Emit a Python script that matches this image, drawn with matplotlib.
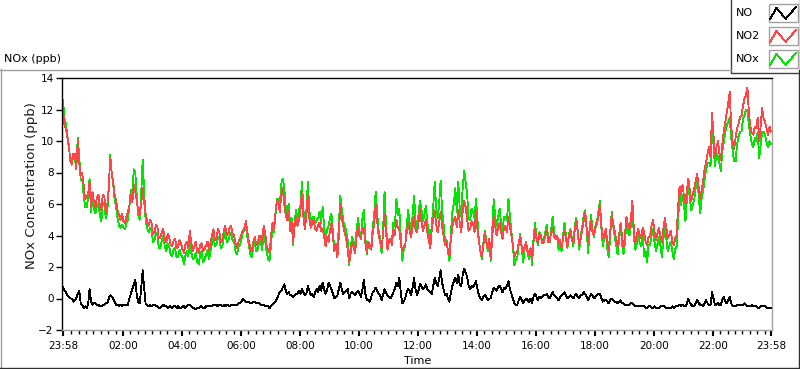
import numpy as np
import matplotlib
matplotlib.use("Agg")
import matplotlib.pyplot as plt
from matplotlib.lines import Line2D
from matplotlib.patches import Rectangle

# sample times in minutes after 23:58 (one reading every 3 min)
minutes = np.arange(0, 1441, 3)

no2 = [
    12.0, 11.0, 10.8, 10.2, 9.6, 8.8, 8.5, 9.2, 9.2, 8.3, 10.0, 8.6, 7.8, 8.0, 7.2, 6.3, 6.4, 6.6, 7.4, 5.8,
    6.8, 6.1, 5.8, 6.4, 6.6, 5.9, 5.6, 6.6, 6.5, 5.5, 5.9, 7.0, 8.9, 8.0, 7.4, 6.6, 6.2, 5.6, 5.3, 5.0,
    5.4, 4.9, 4.8, 5.2, 5.5, 5.9, 6.6, 6.1, 7.2, 6.8, 6.2, 5.6, 5.3, 6.0, 7.0, 6.1, 5.4, 4.9, 4.6, 5.0,
    4.8, 4.1, 4.2, 4.7, 4.5, 3.8, 3.9, 4.2, 4.4, 3.8, 3.6, 4.1, 3.9, 3.4, 3.3, 3.7, 3.8, 3.2, 3.3, 3.7,
    3.5, 3.1, 2.9, 3.4, 3.6, 3.2, 4.3, 3.5, 3.0, 3.3, 3.6, 3.0, 2.9, 3.4, 3.5, 3.0, 3.1, 3.4, 3.6, 3.1,
    3.5, 4.0, 4.4, 3.7, 3.8, 4.4, 4.2, 3.6, 3.7, 4.3, 4.6, 4.0, 4.1, 4.5, 4.6, 4.1, 4.0, 3.5, 3.2, 3.6,
    3.8, 4.1, 4.3, 4.5, 4.9, 4.2, 3.6, 3.2, 3.0, 3.6, 3.9, 3.4, 3.5, 4.0, 4.0, 3.5, 4.6, 4.2, 3.4, 3.1,
    2.9, 3.9, 4.8, 4.5, 5.4, 6.2, 6.0, 5.5, 6.6, 7.0, 6.0, 5.3, 5.0, 5.6, 4.3, 4.8, 3.6, 4.6, 5.2, 4.6,
    5.0, 5.6, 6.8, 5.2, 4.4, 5.3, 6.6, 5.1, 4.5, 4.8, 5.0, 4.4, 4.3, 4.7, 4.8, 4.3, 4.4, 4.0, 3.3, 3.9,
    3.6, 4.3, 4.8, 3.9, 3.0, 3.4, 2.6, 4.0, 6.0, 5.1, 4.6, 4.2, 3.8, 3.1, 2.3, 2.9, 3.6, 3.3, 2.9, 3.9,
    4.6, 4.0, 3.8, 4.5, 4.4, 3.5, 2.9, 3.6, 3.4, 3.1, 4.2, 4.8, 6.0, 4.9, 4.0, 3.6, 3.2, 4.1, 5.4, 4.2,
    3.1, 3.6, 3.8, 3.4, 4.4, 4.0, 5.0, 4.5, 4.4, 3.5, 3.0, 3.3, 3.4, 4.2, 4.8, 4.3, 3.9, 4.6, 5.2, 4.4,
    4.2, 4.8, 5.7, 4.9, 4.3, 4.6, 5.0, 4.2, 3.7, 3.2, 4.4, 5.0, 5.6, 4.7, 4.2, 4.8, 5.5, 4.6, 4.0, 3.4,
    3.6, 3.0, 2.7, 3.8, 4.6, 5.0, 5.2, 4.5, 5.6, 4.8, 4.2, 5.6, 6.2, 5.8, 5.0, 4.3, 4.4, 4.9, 4.8, 4.2,
    5.6, 4.4, 3.6, 3.0, 2.6, 3.4, 4.2, 3.6, 3.2, 3.8, 2.5, 3.9, 5.2, 4.6, 4.0, 4.5, 4.8, 4.2, 3.8, 4.5,
    4.6, 4.2, 5.2, 4.6, 4.0, 3.4, 2.6, 2.9, 3.0, 3.6, 3.9, 3.3, 2.9, 3.3, 3.5, 3.0, 2.8, 3.2, 2.5, 3.6,
    4.4, 3.8, 3.5, 4.1, 4.0, 3.5, 3.6, 4.0, 4.3, 3.6, 3.7, 4.2, 4.5, 3.9, 3.8, 4.0, 3.5, 3.7, 3.2, 3.8,
    4.3, 3.8, 3.3, 4.0, 4.3, 3.7, 3.5, 4.4, 5.0, 4.2, 3.4, 3.8, 4.4, 4.9, 5.5, 4.4, 3.6, 4.3, 5.0, 4.2,
    4.0, 4.5, 4.8, 5.2, 6.0, 4.6, 3.8, 4.1, 4.4, 3.6, 3.1, 4.2, 5.4, 4.8, 4.3, 3.7, 3.3, 4.0, 4.8, 3.9,
    3.2, 4.0, 5.2, 4.6, 4.4, 5.0, 6.2, 4.4, 3.5, 4.0, 4.4, 4.0, 3.8, 4.5, 4.2, 3.6, 3.4, 3.9, 4.0, 4.6,
    5.0, 4.2, 3.7, 4.1, 4.5, 4.0, 3.6, 4.4, 5.1, 4.5, 3.8, 4.0, 4.3, 3.7, 3.4, 3.8, 4.0, 5.8, 7.1, 6.6,
    7.2, 6.5, 6.0, 6.9, 7.6, 6.8, 6.2, 6.6, 7.0, 7.5, 7.9, 7.0, 6.3, 6.9, 7.5, 8.2, 8.6, 9.2, 9.6, 9.0,
    11.8, 10.4, 9.0, 9.6, 10.0, 9.2, 8.8, 9.8, 10.6, 11.2, 11.8, 12.4, 13.1, 11.0, 9.9, 9.5, 10.2, 10.8, 11.1, 11.5,
    11.6, 12.2, 12.7, 12.9, 13.4, 11.8, 10.9, 10.5, 10.4, 10.9, 10.8, 11.5, 10.0, 11.0, 12.1, 11.4, 11.2, 10.8, 10.4, 10.9,
    10.6,
]

no = [
    0.7, 0.5, 0.4, 0.2, 0.1, 0.0, 0.0, -0.2, -0.1, 0.0, 0.3, 0.5, -0.3, -0.4, -0.6, -0.5, -0.6, -0.4, 0.6, -0.2,
    -0.4, -0.3, -0.3, -0.4, -0.4, -0.5, -0.5, -0.4, -0.4, -0.3, -0.3, 0.0, 0.2, 0.1, 0.0, -0.2, -0.4, -0.4, -0.5, -0.4,
    -0.5, -0.4, -0.4, -0.4, -0.4, 0.0, 0.3, 0.6, 0.9, 1.2, 0.2, -0.2, -0.3, 0.6, 1.8, 0.7, -0.3, -0.4, -0.5, -0.4,
    -0.5, -0.4, -0.4, -0.5, -0.5, -0.6, -0.6, -0.5, -0.4, -0.5, -0.5, -0.6, -0.5, -0.5, -0.6, -0.5, -0.5, -0.6, -0.5, -0.6,
    -0.6, -0.5, -0.5, -0.6, -0.5, -0.4, -0.4, -0.5, -0.6, -0.6, -0.7, -0.6, -0.6, -0.5, -0.5, -0.6, -0.6, -0.5, -0.5, -0.5,
    -0.5, -0.5, -0.4, -0.4, -0.4, -0.5, -0.4, -0.4, -0.5, -0.4, -0.5, -0.4, -0.4, -0.5, -0.4, -0.4, -0.4, -0.4, -0.4, -0.3,
    -0.3, -0.2, 0.0, -0.1, -0.2, -0.2, -0.2, -0.3, -0.3, -0.2, -0.2, -0.3, -0.3, -0.3, -0.4, -0.4, -0.4, -0.5, -0.5, -0.5,
    -0.6, -0.5, -0.4, -0.3, -0.2, 0.0, 0.2, 0.4, 0.5, 0.7, 0.9, 0.5, 0.3, 0.4, 0.2, 0.2, 0.1, 0.2, 0.3, 0.3,
    0.5, 0.3, 0.6, 0.4, 0.2, 0.3, 0.8, 0.5, 0.2, 0.3, 0.1, 0.4, 0.6, 0.4, 0.8, 0.5, 1.0, 0.6, 0.3, 0.5,
    1.0, 0.8, 0.6, 0.3, 0.0, 0.1, 0.2, 0.6, 1.0, 0.6, 0.3, 0.4, 0.5, 0.6, 0.0, 0.3, 0.4, 0.3, 0.2, 0.4,
    0.5, 0.3, 0.1, 0.6, 1.2, 0.3, -0.1, -0.1, -0.2, 0.1, 0.4, 0.5, 0.7, 0.5, 0.3, 0.2, -0.1, 0.2, 0.6, 0.4,
    0.2, 0.1, 0.0, 0.2, 0.4, 0.6, 1.0, 0.8, 1.3, 0.4, -0.3, -0.2, 0.0, 0.4, 0.6, 0.5, 0.2, 0.7, 1.3, 0.6,
    0.2, 0.5, 0.9, 0.8, 0.6, 0.7, 0.9, 0.6, 0.5, 0.4, 0.3, 0.8, 1.3, 1.0, 0.8, 1.2, 1.8, 1.0, 0.6, 0.2,
    0.3, 0.0, -0.2, 0.4, 0.8, 1.1, 1.3, 1.0, 1.5, 0.9, 0.8, 1.5, 1.9, 1.6, 1.4, 0.8, 0.6, 0.8, 0.7, 0.9,
    1.1, 0.6, 0.2, 0.0, -0.1, 0.1, 0.2, 0.1, -0.1, 0.0, 0.0, 0.4, 0.7, 0.6, 0.5, 0.7, 0.8, 0.6, 0.4, 0.7,
    0.6, 0.8, 1.1, 0.6, 0.3, 0.0, -0.3, -0.4, -0.4, -0.1, 0.1, -0.1, -0.3, -0.1, 0.0, -0.1, -0.2, 0.0, -0.3, 0.1,
    0.3, 0.1, -0.1, 0.1, 0.0, 0.1, 0.2, 0.2, 0.3, 0.1, 0.0, 0.2, 0.4, 0.2, 0.1, 0.0, -0.1, 0.1, 0.2, 0.3,
    0.4, 0.2, 0.0, 0.1, 0.2, 0.1, 0.0, 0.2, 0.3, 0.1, 0.0, 0.2, 0.2, 0.4, 0.3, 0.1, -0.1, 0.1, 0.3, 0.2,
    0.0, 0.1, 0.2, 0.3, 0.3, 0.0, -0.2, -0.1, -0.1, -0.2, -0.3, -0.1, 0.0, -0.1, -0.2, -0.2, -0.3, -0.2, -0.1, -0.3,
    -0.3, -0.4, -0.4, -0.4, -0.4, -0.3, -0.3, -0.4, -0.5, -0.5, -0.5, -0.5, -0.5, -0.5, -0.5, -0.6, -0.6, -0.5, -0.5, -0.6,
    -0.6, -0.5, -0.6, -0.6, -0.6, -0.5, -0.5, -0.5, -0.5, -0.6, -0.6, -0.6, -0.6, -0.5, -0.6, -0.5, -0.5, -0.5, -0.4, -0.5,
    -0.4, -0.5, -0.5, -0.3, 0.0, -0.3, -0.4, -0.5, -0.5, -0.3, -0.1, -0.3, -0.4, -0.4, -0.5, -0.3, -0.1, -0.3, -0.4, -0.4,
    0.4, 0.0, -0.4, -0.4, -0.3, -0.4, -0.4, -0.1, 0.1, -0.2, -0.3, -0.1, 0.1, -0.3, -0.5, -0.5, -0.5, -0.4, -0.4, -0.4,
    -0.4, -0.4, -0.3, -0.4, -0.5, -0.5, -0.5, -0.4, -0.5, -0.5, -0.5, -0.6, -0.6, -0.5, -0.5, -0.5, -0.5, -0.6, -0.6, -0.6,
    -0.6,
]

nox = [
    12.6, 11.4, 11.1, 10.3, 9.7, 8.7, 8.9, 9.1, 9.0, 8.2, 10.2, 9.0, 7.5, 7.6, 6.6, 5.8, 5.8, 6.3, 7.6, 5.5,
    6.4, 5.7, 5.4, 5.9, 6.0, 5.3, 4.9, 6.1, 6.1, 5.1, 5.5, 6.9, 9.1, 8.0, 7.3, 6.3, 5.8, 5.1, 4.6, 4.5,
    4.7, 4.5, 4.4, 4.8, 5.0, 5.8, 6.9, 6.6, 8.2, 8.0, 6.5, 5.3, 5.0, 6.6, 8.8, 6.8, 5.0, 4.5, 4.2, 4.5,
    4.3, 3.6, 3.7, 4.2, 4.0, 3.2, 3.2, 3.7, 4.0, 3.3, 3.0, 3.5, 3.3, 2.8, 2.7, 3.1, 3.2, 2.6, 2.6, 3.1,
    2.8, 2.6, 2.2, 2.7, 3.0, 2.7, 3.8, 2.9, 2.5, 2.6, 2.9, 2.3, 2.2, 2.8, 3.0, 2.3, 2.5, 2.8, 3.1, 2.5,
    3.0, 3.5, 4.0, 3.3, 3.4, 3.9, 3.8, 3.2, 3.3, 3.9, 4.2, 3.6, 3.7, 4.0, 4.2, 3.7, 3.6, 3.0, 2.8, 3.3,
    3.4, 3.8, 4.2, 4.3, 4.6, 3.9, 3.4, 2.8, 2.6, 3.3, 3.6, 3.0, 3.1, 3.7, 3.6, 3.1, 4.2, 3.7, 3.0, 2.5,
    2.4, 3.4, 4.5, 4.2, 5.3, 6.3, 6.3, 5.9, 7.3, 7.6, 7.0, 5.8, 5.4, 6.0, 4.6, 5.1, 3.4, 4.9, 5.6, 5.0,
    5.6, 5.9, 7.4, 5.6, 4.7, 5.6, 7.4, 5.6, 4.8, 5.1, 5.2, 4.8, 5.0, 5.1, 5.5, 4.8, 5.8, 4.6, 3.7, 4.4,
    4.6, 5.1, 5.4, 4.2, 3.0, 3.5, 2.8, 4.6, 6.5, 5.7, 4.9, 4.6, 4.3, 3.7, 2.1, 3.2, 3.9, 3.6, 3.0, 4.3,
    5.1, 4.3, 3.9, 5.1, 5.6, 3.8, 2.8, 3.5, 3.2, 3.2, 4.6, 5.3, 6.8, 5.4, 4.3, 3.8, 2.9, 4.3, 6.8, 4.6,
    3.3, 3.7, 3.7, 3.6, 4.8, 4.6, 6.3, 5.3, 5.7, 3.9, 2.4, 3.1, 3.3, 4.6, 5.6, 4.8, 4.1, 5.3, 6.5, 5.0,
    4.4, 5.3, 6.2, 5.7, 4.9, 5.3, 5.9, 4.8, 4.3, 3.6, 4.6, 5.8, 7.4, 5.8, 5.1, 6.0, 7.5, 5.6, 4.7, 3.6,
    3.7, 3.0, 2.4, 4.2, 5.5, 6.1, 7.0, 5.5, 7.4, 5.7, 5.2, 7.1, 8.1, 7.4, 6.6, 5.1, 5.0, 5.7, 5.5, 5.1,
    6.3, 5.0, 3.6, 3.0, 2.5, 3.5, 4.3, 3.7, 3.0, 3.7, 2.4, 4.3, 6.3, 5.2, 4.6, 5.2, 5.7, 4.8, 4.3, 5.2,
    5.2, 5.0, 6.3, 5.2, 4.2, 3.4, 2.1, 2.5, 2.6, 3.5, 4.1, 3.2, 2.3, 3.2, 3.6, 2.9, 2.5, 3.2, 2.1, 3.8,
    4.8, 3.9, 3.4, 4.2, 4.0, 3.6, 3.8, 4.2, 4.7, 3.7, 3.6, 4.4, 5.2, 4.1, 3.9, 3.9, 3.1, 3.6, 3.0, 4.0,
    4.8, 4.0, 3.2, 4.1, 4.4, 3.8, 3.3, 4.6, 5.1, 4.3, 3.1, 4.0, 4.5, 5.3, 5.6, 4.5, 2.9, 4.3, 5.3, 4.4,
    3.9, 4.6, 4.9, 5.5, 6.2, 4.5, 3.3, 4.0, 4.2, 3.2, 2.6, 4.0, 5.5, 4.6, 4.0, 3.4, 2.8, 3.7, 4.7, 3.5,
    2.8, 3.6, 4.8, 4.2, 4.0, 4.6, 5.8, 4.0, 3.1, 3.5, 4.2, 3.5, 3.3, 4.0, 2.7, 3.0, 2.3, 3.4, 3.4, 4.0,
    4.4, 3.6, 3.0, 3.4, 3.9, 3.4, 2.6, 3.7, 4.6, 3.8, 3.0, 3.3, 3.6, 3.1, 2.5, 3.1, 3.3, 5.0, 6.6, 5.9,
    6.6, 6.0, 4.9, 6.4, 7.3, 6.3, 5.6, 6.0, 6.3, 7.1, 7.5, 6.5, 5.4, 6.4, 6.8, 7.6, 8.2, 8.6, 8.6, 8.4,
    11.2, 9.8, 8.4, 9.2, 9.0, 8.6, 8.1, 9.4, 9.9, 10.6, 11.0, 11.2, 11.5, 10.2, 9.4, 8.7, 8.7, 9.8, 10.3, 10.6,
    10.6, 11.4, 11.6, 12.0, 12.0, 11.0, 10.4, 9.8, 9.6, 10.2, 10.0, 10.6, 8.9, 9.8, 10.6, 10.6, 10.4, 9.9, 9.6, 10.0,
    9.8,
]

tick_minutes = [0, 122, 242, 362, 482, 602, 722, 842, 962, 1082, 1202, 1322, 1440]
tick_labels = ["23:58", "02:00", "04:00", "06:00", "08:00", "10:00", "12:00",
               "14:00", "16:00", "18:00", "20:00", "22:00", "23:58"]

W, H = 800, 369


def fx(x):
    return x / W


def fy(y):
    return 1 - y / H


fig = plt.figure(figsize=(W / 100, H / 100), dpi=100)

# outer chart frame
fig.add_artist(Line2D([fx(0.5), fx(0.5)], [fy(69), fy(367.5)], color="#a0a0a0", lw=1))
fig.add_artist(Line2D([fx(0), fx(731)], [fy(69.5), fy(69.5)], color="#a0a0a0", lw=1))
fig.add_artist(Line2D([fx(0), fx(799)], [fy(367.5), fy(367.5)], color="#303030", lw=1))
fig.add_artist(Line2D([fx(798.5), fx(798.5)], [fy(70), fy(368)], color="#303030", lw=1))

ax = fig.add_axes([fx(62), fy(330), 710 / W, 252 / H])
ax.plot(minutes, nox, color="#00e600", lw=0.6, antialiased=False)
ax.plot(minutes, no2, color="#ff4545", lw=0.6, antialiased=False)
ax.plot(minutes, no, color="black", lw=0.6, antialiased=False)

ax.set_xlim(-2.03, 1442.03)
ax.set_ylim(-2, 14)
ax.set_yticks(range(-2, 15, 2))
ax.set_xticks(tick_minutes)
ax.set_xticklabels(tick_labels)
minor = [2 + 15 * k for k in range(1, 96) if (2 + 15 * k) not in tick_minutes]
ax.set_xticks(minor, minor=True)

for side in ["left", "top"]:
    ax.spines[side].set_color("black")
    ax.spines[side].set_linewidth(1)
for side in ["right", "bottom"]:
    ax.spines[side].set_color("#a0a0a0")
    ax.spines[side].set_linewidth(1)

ax.tick_params(axis="both", which="major", direction="out", length=4, width=1,
               labelsize=7.5, colors="black", pad=2)
ax.tick_params(axis="x", which="major", width=1.5, pad=4)
ax.tick_params(axis="x", which="minor", direction="out", length=3, width=1, color="black")

fig.text(fx(32), fy(186), "NOx Concentration (ppb)", rotation=90, ha="center",
         va="center", fontsize=9.5, color="#1a1a1a")
fig.text(fx(418), fy(361), "Time", ha="center", va="center", fontsize=8)
fig.text(fx(4), fy(59), "NOx (ppb)", ha="left", va="center", fontsize=8)

# legend panel
fig.add_artist(Rectangle((fx(730.5), fy(72.5)), 70 / W, 74 / H, transform=fig.transFigure,
                         facecolor="white", edgecolor="#404040", lw=1))
legend_names = ["NO", "NO2", "NOx"]
legend_colors = ["black", "#ff4545", "#00e600"]
legend_rows = [(4, 21.5), (27, 44.5), (50, 67.5)]
for name, col, (top, bot) in zip(legend_names, legend_colors, legend_rows):
    fig.text(fx(736), fy((top + bot) / 2), name, ha="left", va="center", fontsize=8)
    x0, x1 = 768.5, 798.0
    fig.add_artist(Rectangle((fx(x0), fy(bot)), (x1 - x0) / W, (bot - top) / H,
                             transform=fig.transFigure, facecolor="white",
                             edgecolor="#a0a0a0", lw=1))
    zx = [x0 + f * (x1 - x0) for f in (0.05, 0.27, 0.58, 0.93)]
    zy = [top + f * (bot - top) for f in (0.88, 0.22, 0.85, 0.18)]
    fig.add_artist(Line2D([fx(v) for v in zx], [fy(v) for v in zy], color=col, lw=0.6,
                          antialiased=False))

fig.savefig("out.png", dpi=100)
